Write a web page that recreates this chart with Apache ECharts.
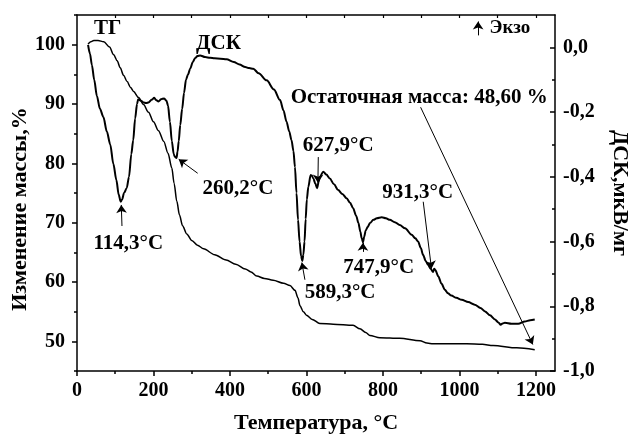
<!DOCTYPE html>
<html>
<head>
<meta charset="utf-8">
<script src="https://cdn.jsdelivr.net/npm/echarts@6/dist/echarts.min.js"></script>
<style>
  html, body { margin: 0; padding: 0; background: #fff; }
  #chart { width: 630px; height: 439px; }
</style>
</head>
<body>
<div id="chart"></div>
<script>
// Axis tick values
const xTicks = [0, 200, 400, 600, 800, 1000, 1200];
const xMinorTicks = [100, 300, 500, 700, 900, 1100];
const xTopTicks = [100, 200, 300, 400, 500, 600, 700, 800, 900, 1000, 1100, 1200];
const massTicks = [50, 60, 70, 80, 90, 100];
const massMinorTicks = [45, 55, 65, 75, 85, 95, 105];
const dscTicks = [-1.0, -0.8, -0.6, -0.4, -0.2, 0.0];
const dscMinorTicks = [-0.9, -0.7, -0.5, -0.3, -0.1];

// TG curve: [temperature °C, mass %]
const tgCurve = [
  [29, 100.1], [36, 100.5], [44, 100.7], [55, 100.7], [70, 100.5], [85, 99.6],
  [96, 98.3], [105, 97.3], [113, 96.1], [122, 94.8], [131, 93.8], [140, 92.8],
  [148, 92.1], [161, 91.1], [174, 89.9], [187, 88.6], [200, 87.0], [213, 85.5],
  [227, 83.7], [238, 81.7], [248, 79.2], [254, 76.6], [261, 73.6], [268, 71.3],
  [276, 69.5], [287, 68.1], [300, 67.0], [315, 66.2], [331, 65.6], [360, 64.6],
  [390, 63.7], [415, 63.0], [440, 62.2], [455, 61.7], [470, 61.0], [490, 60.6],
  [513, 60.3], [540, 59.8], [557, 59.4], [570, 58.6], [578, 57.3], [583, 56.0],
  [592, 55.0], [600, 54.4], [615, 53.7], [635, 53.0], [670, 52.9], [722, 52.7],
  [740, 52.1], [755, 51.5], [766, 51.0], [792, 50.6], [844, 50.5], [897, 50.1],
  [915, 49.7], [931, 49.6], [1019, 49.6], [1060, 49.5], [1088, 49.3], [1150, 48.9],
  [1197, 48.6]
];

// DSC curve: [temperature °C, µV/mg]
const dscCurve = [
  [29, 0.008], [34, -0.02], [39, -0.055], [45, -0.1], [52, -0.15], [60, -0.19],
  [69, -0.215], [78, -0.26], [87, -0.3], [95, -0.36], [103, -0.41], [109, -0.455],
  [114.3, -0.477], [118, -0.47], [123, -0.45], [130, -0.435], [136, -0.4], [142, -0.33],
  [147, -0.287], [152, -0.22], [157, -0.175], [160, -0.16], [167, -0.165], [174, -0.17],
  [181, -0.172], [187, -0.17], [195, -0.162], [202, -0.156], [207, -0.163], [213, -0.167],
  [220, -0.16], [228, -0.158], [234, -0.165], [238, -0.18], [243, -0.23], [248, -0.29],
  [253, -0.33], [256, -0.338], [260.2, -0.342], [263, -0.322], [266, -0.29], [270, -0.24],
  [275, -0.19], [280, -0.14], [285, -0.1], [290, -0.085], [296, -0.066], [303, -0.045],
  [309, -0.033], [315, -0.027], [322, -0.025], [335, -0.03], [348, -0.032], [360, -0.034],
  [375, -0.035], [391, -0.037], [410, -0.045], [425, -0.053], [440, -0.061], [450, -0.064],
  [461, -0.066], [475, -0.08], [496, -0.102], [515, -0.13], [531, -0.163], [540, -0.195],
  [548, -0.23], [555, -0.26], [561, -0.287], [566, -0.32], [570, -0.37], [574, -0.45],
  [578, -0.533], [582, -0.6], [586, -0.645], [589.3, -0.66], [592, -0.64], [595, -0.6],
  [598, -0.53], [601, -0.47], [605, -0.431], [611, -0.394], [614, -0.396], [618, -0.405],
  [623, -0.42], [627.9, -0.435], [632, -0.415], [636, -0.398], [644, -0.384], [652, -0.393],
  [661, -0.405], [672, -0.423], [683, -0.441], [694, -0.453], [705, -0.466], [714, -0.48],
  [722, -0.497], [730, -0.52], [736, -0.543], [741, -0.57], [744.5, -0.59], [747.9, -0.602],
  [751, -0.585], [755, -0.566], [760, -0.555], [766, -0.543], [775, -0.533], [784, -0.528],
  [797, -0.525], [808, -0.528], [818, -0.533], [831, -0.54], [844, -0.549], [858, -0.559],
  [875, -0.579], [885, -0.59], [892, -0.6], [899, -0.62], [905, -0.641], [912, -0.66],
  [918, -0.672], [925, -0.685], [931.3, -0.694], [934, -0.684], [937, -0.688], [945, -0.708],
  [953, -0.73], [962, -0.749], [970, -0.76], [979, -0.767], [992, -0.774], [1006, -0.78],
  [1023, -0.787], [1040, -0.795], [1055, -0.805], [1067, -0.816], [1080, -0.828], [1093, -0.841],
  [1102, -0.85], [1108, -0.857], [1113, -0.853], [1119, -0.851], [1136, -0.854], [1154, -0.854],
  [1171, -0.847], [1185, -0.843], [1197, -0.841]
];

// Annotation texts, anchored in (temperature, DSC) coordinates
const notes = [
  { text: 'ТГ', at: [80, 0.058] },
  { text: 'ДСК', at: [370, 0.011] },
  { text: '114,3°C', at: [134, -0.605] },
  { text: '260,2°C', at: [421, -0.437] },
  { text: '627,9°C', at: [683, -0.302] },
  { text: '589,3°C', at: [688, -0.758] },
  { text: '747,9°C', at: [789, -0.681] },
  { text: '931,3°C', at: [891, -0.45] },
  { text: 'Остаточная масса: 48,60 %', at: [895, -0.154] },
  { text: 'Экзо', at: [1132, 0.059] }
];

// Pointer arrows: from -> to, in (temperature, DSC) coordinates
const arrows = [
  { from: [117.6, -0.552], to: [115.8, -0.487] },
  { from: [315.6, -0.389], to: [266, -0.346] },
  { from: [631, -0.339], to: [630, -0.418] },
  { from: [596, -0.718], to: [588, -0.665] },
  { from: [747.7, -0.632], to: [747.7, -0.604] },
  { from: [905.4, -0.477], to: [927, -0.684] },
  { from: [898.6, -0.185], to: [1192, -0.918] },
  { from: [1049, 0.037], to: [1049, 0.08] }
];

const FONT = "'Liberation Serif', 'Times New Roman', serif";
const black = '#000';
const textStyle = { color: black, fontFamily: FONT, fontWeight: 'bold', fontSize: 20 };
const noteStyle = Object.assign({}, textStyle, { fontSize: 21 });
const nameStyle = Object.assign({}, textStyle, { fontSize: 22 });

function commaFmt(v) {
  return v.toFixed(1).replace('.', ',');
}
function plainFmt(v) {
  return String(v);
}

const chart = echarts.init(document.getElementById('chart'), null, { renderer: 'canvas' });

chart.setOption({
  animation: false,
  backgroundColor: '#fff',
  grid: { left: 77, right: 75, top: 15, bottom: 68, outerBoundsMode: 'none', containLabel: false },
  xAxis: [
    {
      type: 'value', position: 'bottom', min: 0, max: 1250,
      axisLine: { onZero: false, lineStyle: { color: black, width: 1.5 } },
      axisTick: { customValues: xTicks, length: 5, lineStyle: { color: black, width: 1.5 } },
      axisLabel: Object.assign({ customValues: xTicks, margin: 10, formatter: plainFmt }, textStyle),
      splitLine: { show: false },
      name: 'Температура, °C', nameLocation: 'middle', nameGap: 41, nameMoveOverlap: false,
      nameTextStyle: nameStyle
    },
    {
      type: 'value', position: 'bottom', min: 0, max: 1250,
      axisLine: { show: false, onZero: false },
      axisTick: { customValues: xMinorTicks, length: 3, lineStyle: { color: black, width: 1.5 } },
      axisLabel: { show: false },
      splitLine: { show: false }
    },
    {
      type: 'value', position: 'top', min: 0, max: 1250,
      axisLine: { onZero: false, lineStyle: { color: black, width: 1.5 } },
      axisTick: { customValues: xTopTicks, inside: true, length: 3, lineStyle: { color: black, width: 1.2 } },
      axisLabel: { show: false },
      splitLine: { show: false }
    }
  ],
  yAxis: [
    {
      type: 'value', position: 'left', min: 45, max: 105,
      axisLine: { show: true, onZero: false, lineStyle: { color: black, width: 1.5 } },
      axisTick: { show: true, customValues: massTicks, length: 5, lineStyle: { color: black, width: 1.5 } },
      axisLabel: Object.assign({ customValues: massTicks, margin: 12 }, textStyle),
      splitLine: { show: false },
      name: 'Изменение массы,%', nameLocation: 'middle', nameRotate: 90, nameGap: 46,
      nameMoveOverlap: false,
      nameTextStyle: Object.assign({}, nameStyle, { padding: [0, 32, 0, 0] })
    },
    {
      type: 'value', position: 'right', min: -1.0, max: 0.1,
      axisLine: { show: true, onZero: false, lineStyle: { color: black, width: 1.5 } },
      axisTick: { show: true, customValues: dscTicks, inside: true, length: 5, lineStyle: { color: black, width: 1.5 } },
      axisLabel: Object.assign({ customValues: dscTicks, margin: 8, formatter: commaFmt }, textStyle),
      splitLine: { show: false },
      name: 'ДСК,мкВ/мг', nameLocation: 'middle', nameRotate: -90, nameGap: 54,
      nameMoveOverlap: false,
      nameTextStyle: nameStyle
    },
    {
      type: 'value', position: 'left', min: 45, max: 105,
      axisLine: { show: false, onZero: false },
      axisTick: { show: true, customValues: massMinorTicks, length: 3, lineStyle: { color: black, width: 1.5 } },
      axisLabel: { show: false },
      splitLine: { show: false }
    },
    {
      type: 'value', position: 'right', min: -1.0, max: 0.1,
      axisLine: { show: false, onZero: false },
      axisTick: { show: true, customValues: dscMinorTicks, inside: true, length: 3, lineStyle: { color: black, width: 1.5 } },
      axisLabel: { show: false },
      splitLine: { show: false }
    }
  ],
  series: [
    {
      name: 'ТГ', type: 'line', xAxisIndex: 0, yAxisIndex: 0,
      data: tgCurve, showSymbol: false, smooth: 0.3, smoothMonotone: 'x',
      lineStyle: { color: black, width: 1.5 },
      silent: true
    },
    {
      name: 'ДСК', type: 'line', xAxisIndex: 0, yAxisIndex: 1,
      data: dscCurve, showSymbol: false, smooth: 0.3, smoothMonotone: 'x',
      lineStyle: { color: black, width: 2 },
      silent: true,
      markPoint: {
        silent: true,
        symbol: 'circle', symbolSize: 0,
        data: notes.map(n => ({
          name: n.text, coord: n.at,
          label: Object.assign({ show: true, position: 'inside', formatter: '{b}' }, noteStyle,
            n.text === 'Экзо' ? { fontSize: 19 } : {})
        }))
      },
      markLine: {
        silent: true,
        symbol: ['none', 'arrow'], symbolSize: 8,
        lineStyle: { color: black, width: 1, type: 'solid' },
        label: { show: false },
        emphasis: { disabled: true },
        data: arrows.map(a => [{ coord: a.from }, { coord: a.to }])
      }
    }
  ]
});
</script>
</body>
</html>
